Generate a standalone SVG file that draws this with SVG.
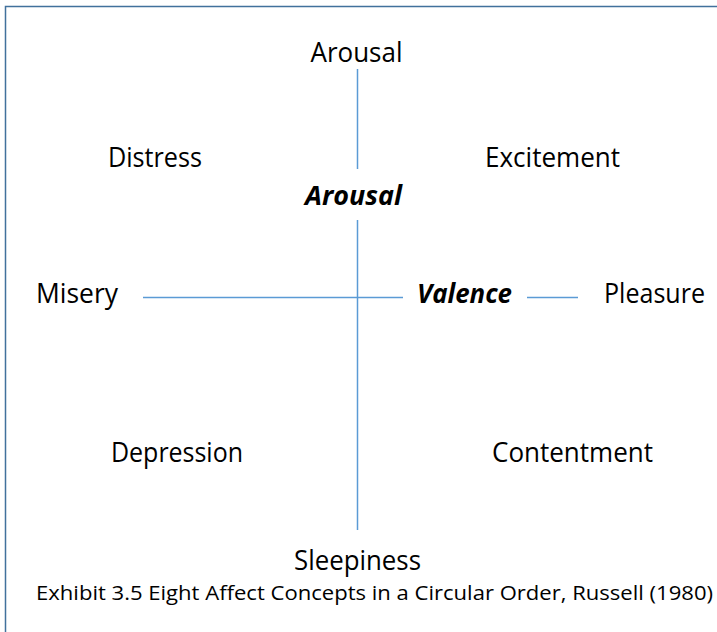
<svg xmlns="http://www.w3.org/2000/svg" width="717" height="632" viewBox="0 0 717 632">
  <style>
    .lbl { font-family: "Open Sans", "Noto Sans", sans-serif; font-size: 26.5px; fill: #000; text-anchor: middle; }
    .axis { font-weight: bold; font-style: italic; }
    .cap { font-family: "Open Sans", "Noto Sans", sans-serif; font-size: 19.5px; fill: #000; }
    .conn line { stroke: #5B9BD5; stroke-width: 1.5; }
  </style>
  <rect x="0" y="0" width="717" height="632" fill="#fff"/>
  <!-- frame, running past the right and bottom edges -->
  <rect x="5.5" y="6.5" width="740" height="660" fill="none" stroke="#41719C" stroke-width="1.5"/>

  <g id="connectors" class="conn">
    <line x1="357.5" y1="69" x2="357.5" y2="169"/>
    <line x1="357.5" y1="220" x2="357.5" y2="530"/>
    <line x1="143" y1="297.5" x2="403" y2="297.5"/>
    <line x1="527" y1="297.5" x2="578" y2="297.5"/>
  </g>

  <g id="arousal-top"><text class="lbl" x="356.5" y="62" textLength="92" lengthAdjust="spacingAndGlyphs">Arousal</text></g>
  <g id="distress"><text class="lbl" x="155" y="167" textLength="94" lengthAdjust="spacingAndGlyphs">Distress</text></g>
  <g id="excitement"><text class="lbl" x="552.5" y="167" textLength="135" lengthAdjust="spacingAndGlyphs">Excitement</text></g>
  <g id="arousal-axis"><text class="lbl axis" x="353.5" y="205" textLength="97" lengthAdjust="spacingAndGlyphs">Arousal</text></g>
  <g id="misery"><text class="lbl" x="77" y="303" textLength="82" lengthAdjust="spacingAndGlyphs">Misery</text></g>
  <g id="valence-axis"><text class="lbl axis" x="464.5" y="303" textLength="95" lengthAdjust="spacingAndGlyphs">Valence</text></g>
  <g id="pleasure"><text class="lbl" x="654.5" y="303" textLength="101" lengthAdjust="spacingAndGlyphs">Pleasure</text></g>
  <g id="depression"><text class="lbl" x="177" y="462" textLength="132" lengthAdjust="spacingAndGlyphs">Depression</text></g>
  <g id="contentment"><text class="lbl" x="572.5" y="462" textLength="161" lengthAdjust="spacingAndGlyphs">Contentment</text></g>
  <g id="sleepiness"><text class="lbl" x="357.5" y="570" textLength="127" lengthAdjust="spacingAndGlyphs">Sleepiness</text></g>
  <g id="caption"><text class="cap" x="36" y="600" textLength="677" lengthAdjust="spacingAndGlyphs">Exhibit 3.5 Eight Affect Concepts in a Circular Order, Russell (1980)</text></g>
</svg>
